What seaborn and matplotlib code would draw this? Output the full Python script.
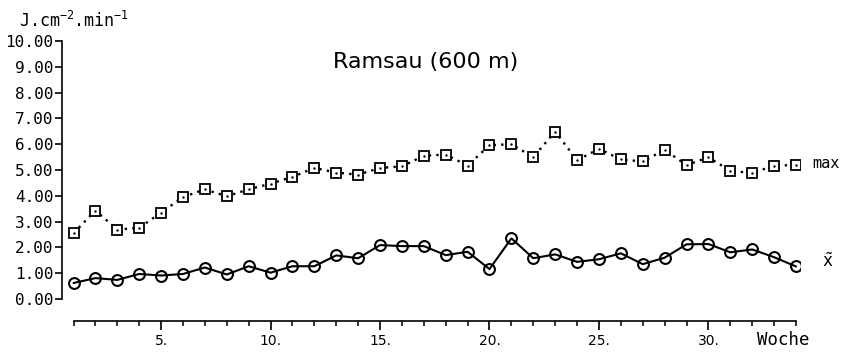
import matplotlib
matplotlib.use("Agg")
import matplotlib.pyplot as plt
import numpy as np
import pandas as pd
import seaborn as sns

# ---- data ----
weeks = list(range(1, 35))
max_values = [2.55, 3.43, 2.69, 2.76, 3.35, 3.95, 4.25, 3.98, 4.25, 4.47,
              4.73, 5.08, 4.90, 4.82, 5.08, 5.14, 5.55, 5.60, 5.17, 5.96,
              6.00, 5.50, 6.49, 5.38, 5.82, 5.41, 5.33, 5.78, 5.19, 5.49,
              4.97, 4.88, 5.17, 5.19]
median_values = [0.62, 0.81, 0.74, 0.97, 0.91, 0.97, 1.22, 0.95, 1.27, 1.02,
                 1.27, 1.27, 1.69, 1.58, 2.09, 2.05, 2.05, 1.70, 1.83, 1.16,
                 2.35, 1.58, 1.73, 1.44, 1.54, 1.77, 1.35, 1.60, 2.12, 2.13,
                 1.81, 1.92, 1.62, 1.26]
y_ticks = [0, 1, 2, 3, 4, 5, 6, 7, 8, 9, 10]
x_major = [5, 10, 15, 20, 25, 30]
x_labels = ["5.", "10.", "15.", "20.", "25.", "30."]
title = "Ramsau (600 m)"
unit_label = r"J.cm$^{-2}$.min$^{-1}$"
series_names = ["max", r"$\tilde{\mathrm{x}}$"]
x_name = "Woche"

sns.set_style("ticks")
plt.rcParams["font.family"] = ["DejaVu Sans"]
plt.rcParams["mathtext.fontset"] = "custom"
plt.rcParams["mathtext.rm"] = "DejaVu Sans Mono"
plt.rcParams["mathtext.default"] = "rm"
plt.rcParams["text.color"] = "black"
plt.rcParams["xtick.color"] = "black"
plt.rcParams["ytick.color"] = "black"
plt.rcParams["xtick.labelcolor"] = "black"
plt.rcParams["ytick.labelcolor"] = "black"

W, H = 862, 359
fig = plt.figure(figsize=(W / 100, H / 100), dpi=100)
fig.patch.set_facecolor("white")

left_px, right_px, top_px, bottom_px = 62, 800, 41, 299
ax = fig.add_axes([left_px / W, (H - bottom_px) / H,
                   (right_px - left_px) / W, (bottom_px - top_px) / H])
ax.set_facecolor("white")

df = pd.DataFrame({"Woche": weeks, "max": max_values, "median": median_values})

sns.lineplot(data=df, x="Woche", y="max", ax=ax, color="black",
             linestyle=(0, (1, 2.2)), linewidth=1.7,
             marker="s", markersize=7.5, markerfacecolor="white",
             markeredgecolor="black", markeredgewidth=1.3, zorder=3)
sns.scatterplot(data=df, x="Woche", y="max", ax=ax, color="black",
                s=3, linewidth=0, zorder=4)
sns.lineplot(data=df, x="Woche", y="median", ax=ax, color="black",
             linewidth=1.5, marker="o", markersize=7.8,
             markerfacecolor="none", markeredgecolor="black",
             markeredgewidth=1.5, zorder=3)

wk_px = 21.89
ax.set_xlim(1 - (73.5 - left_px) / wk_px, 34 + (right_px - 796) / wk_px)
ax.set_ylim(0, 10)

ax.set_yticks(y_ticks)
ax.set_yticklabels([f"{v:.2f}" for v in y_ticks], family="DejaVu Sans Mono",
                   fontsize=11.5, color="black")
ax.set_xticks(x_major)
ax.set_xticklabels(x_labels, fontsize=11, color="black")
ax.set_xticks(weeks, minor=True)

ax.tick_params(axis="y", direction="out", length=5, width=1.2, pad=1,
               colors="black")
ax.tick_params(axis="x", which="major", direction="out", length=6.5,
               width=1.2, pad=3, colors="black")
ax.tick_params(axis="x", which="minor", direction="out", length=3.5,
               width=1.1, colors="black")

ax.set_xlabel("")
ax.set_ylabel("")
for s in ["top", "right"]:
    ax.spines[s].set_visible(False)
ax.spines["left"].set_bounds(0, 10)
ax.spines["left"].set_linewidth(1.2)
ax.spines["bottom"].set_position(("outward", 15.8))
ax.spines["bottom"].set_bounds(1, 34)
ax.spines["bottom"].set_linewidth(1.2)
for s in ["left", "bottom"]:
    ax.spines[s].set_color("black")

# texts
fig.text(426 / W, 1 - 62 / H, title, ha="center", va="center", fontsize=16,
         color="black")
fig.text(19 / W, 1 - 27 / H, unit_label, ha="left", va="baseline",
         family="DejaVu Sans Mono", fontsize=12, color="black")
fig.text(812 / W, 1 - 164 / H, series_names[0], ha="left", va="center",
         family="DejaVu Sans Mono", fontsize=11, color="black")
fig.text(822 / W, 1 - 262 / H, series_names[1], ha="left", va="center",
         fontsize=12, color="black")
fig.text(757 / W, 1 - 340 / H, x_name, ha="left", va="center",
         family="DejaVu Sans Mono", fontsize=12.5, color="black")

fig.savefig("out.png", dpi=100, facecolor="white")
